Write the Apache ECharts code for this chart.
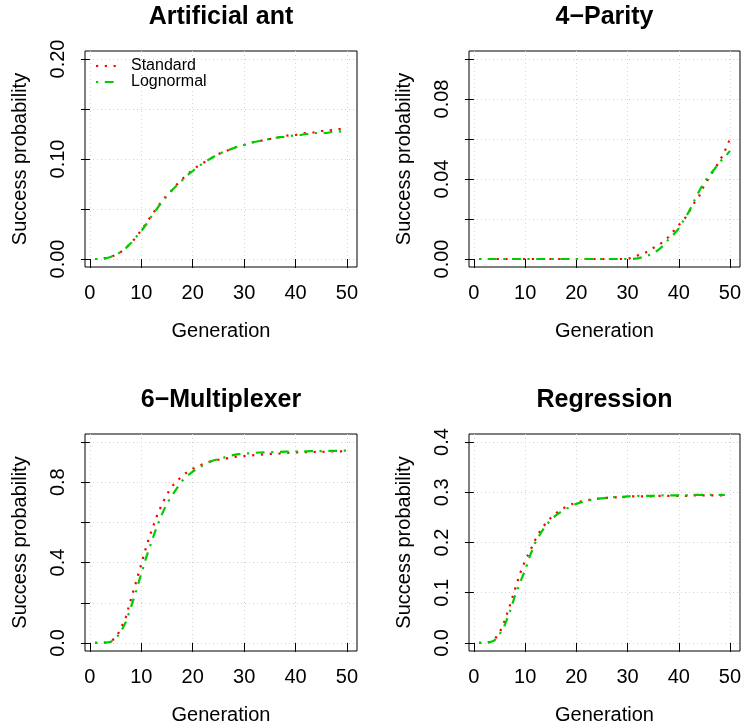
<!DOCTYPE html>
<html>
<head>
<meta charset="utf-8">
<script src="https://cdn.jsdelivr.net/npm/echarts@6/dist/echarts.min.js"></script>
<style>
    html, body { margin: 0; padding: 0; background: #fff; }
    #main { width: 742px; height: 728px; }
</style>
</head>
<body>
<div id="main"></div>
<script>
// generations (x)
var gens = [1, 2, 3, 4, 5, 6, 7, 8, 9, 10, 11, 12, 13, 14, 15, 16, 17, 18, 19, 20,
    21, 22, 23, 24, 25, 26, 27, 28, 29, 30, 31, 32, 33, 34, 35, 36, 37, 38, 39, 40,
    41, 42, 43, 44, 45, 46, 47, 48, 49, 50];

var titles = ['Artificial ant', '4\u2212Parity', '6\u2212Multiplexer', 'Regression'];
var seriesNames = ['Standard', 'Lognormal'];
var xTicks = [0, 10, 20, 30, 40, 50];

// y ticks / labels per panel
var yTicks = [
    [0, 0.05, 0.10, 0.15, 0.20],
    [0, 0.02, 0.04, 0.06, 0.08, 0.10],
    [0, 0.2, 0.4, 0.6, 0.8, 1.0],
    [0, 0.1, 0.2, 0.3, 0.4]
];
var yLabels = [
    [0, 0.10, 0.20],
    [0, 0.04, 0.08],
    [0, 0.4, 0.8],
    [0, 0.1, 0.2, 0.3, 0.4]
];
var yDigits = [2, 2, 1, 1];

// Artificial ant
var antStandard = [0, 0, 0.001, 0.002, 0.004, 0.007, 0.011, 0.016, 0.022, 0.029,
    0.036, 0.044, 0.051, 0.058, 0.064, 0.069, 0.075, 0.080, 0.085, 0.089,
    0.093, 0.096, 0.099, 0.102, 0.105, 0.107, 0.109, 0.111, 0.113, 0.114,
    0.116, 0.117, 0.118, 0.119, 0.120, 0.121, 0.122, 0.123, 0.124, 0.124,
    0.125, 0.126, 0.126, 0.127, 0.128, 0.128, 0.129, 0.130, 0.130, 0.131];
var antLognormal = [0, 0, 0.0005, 0.002, 0.004, 0.007, 0.011, 0.016, 0.022, 0.028,
    0.035, 0.043, 0.050, 0.057, 0.063, 0.069, 0.074, 0.079, 0.084, 0.088,
    0.092, 0.096, 0.099, 0.102, 0.105, 0.107, 0.109, 0.111, 0.113, 0.114,
    0.116, 0.117, 0.118, 0.119, 0.120, 0.121, 0.122, 0.122, 0.123, 0.124,
    0.124, 0.125, 0.125, 0.126, 0.126, 0.126, 0.127, 0.127, 0.128, 0.128];

// 4-Parity
var parityStandard = [0, 0, 0, 0, 0, 0, 0, 0, 0, 0,
    0, 0, 0, 0, 0, 0, 0, 0, 0, 0,
    0, 0, 0, 0, 0, 0, 0, 0, 0, 0,
    0.0008, 0.0018, 0.0027, 0.0038, 0.0055, 0.0068, 0.0087, 0.011, 0.014, 0.017,
    0.0195, 0.0235, 0.028, 0.0315, 0.037, 0.041, 0.045, 0.049, 0.054, 0.060];
var parityLognormal = [0, 0, 0, 0, 0, 0, 0, 0, 0, 0,
    0, 0, 0, 0, 0, 0, 0, 0, 0, 0,
    0, 0, 0, 0, 0, 0, 0, 0, 0, 0,
    0, 0.0003, 0.001, 0.0018, 0.0028, 0.0045, 0.0068, 0.0098, 0.0123, 0.0152,
    0.0195, 0.0237, 0.029, 0.034, 0.0385, 0.042, 0.045, 0.0485, 0.051, 0.054];

// 6-Multiplexer
var muxStandard = [0, 0.001, 0.003, 0.008, 0.025, 0.07, 0.13, 0.22, 0.305, 0.393,
    0.483, 0.56, 0.63, 0.69, 0.74, 0.78, 0.807, 0.833, 0.852, 0.867,
    0.879, 0.89, 0.9, 0.907, 0.912, 0.916, 0.92, 0.925, 0.928, 0.93,
    0.932, 0.935, 0.937, 0.939, 0.941, 0.942, 0.943, 0.945, 0.947, 0.948,
    0.949, 0.95, 0.95, 0.951, 0.951, 0.952, 0.953, 0.953, 0.954, 0.955];
var muxLognormal = [0, 0, 0.001, 0.005, 0.02, 0.055, 0.105, 0.18, 0.26, 0.345,
    0.43, 0.505, 0.577, 0.64, 0.695, 0.735, 0.773, 0.808, 0.833, 0.853,
    0.868, 0.885, 0.898, 0.908, 0.915, 0.922, 0.93, 0.936, 0.94, 0.942,
    0.944, 0.946, 0.948, 0.949, 0.95, 0.95, 0.951, 0.952, 0.953, 0.953,
    0.954, 0.954, 0.955, 0.955, 0.955, 0.956, 0.956, 0.956, 0.957, 0.957];

// Regression (stops at generation 49)
var regStandard = [0, 0, 0.002, 0.007, 0.02, 0.044, 0.074, 0.106, 0.138, 0.164,
    0.184, 0.206, 0.224, 0.238, 0.249, 0.258, 0.266, 0.271, 0.276, 0.279,
    0.282, 0.284, 0.286, 0.287, 0.288, 0.289, 0.29, 0.29, 0.29, 0.291,
    0.292, 0.292, 0.292, 0.292, 0.292, 0.293, 0.293, 0.293, 0.293, 0.293,
    0.293, 0.293, 0.294, 0.294, 0.294, 0.294, 0.294, 0.294, 0.294];
var regLognormal = [0, 0, 0.001, 0.005, 0.017, 0.035, 0.062, 0.093, 0.12, 0.145,
    0.175, 0.2, 0.218, 0.233, 0.245, 0.254, 0.261, 0.267, 0.272, 0.277,
    0.28, 0.283, 0.285, 0.287, 0.288, 0.289, 0.29, 0.291, 0.291, 0.292,
    0.292, 0.293, 0.293, 0.293, 0.293, 0.294, 0.294, 0.294, 0.294, 0.294,
    0.294, 0.294, 0.295, 0.295, 0.295, 0.295, 0.295, 0.295, 0.295];

var panelData = [
    [antStandard, antLognormal],
    [parityStandard, parityLognormal],
    [muxStandard, muxLognormal],
    [regStandard, regLognormal]
];

//面板位置
var boxes = [
    {left: 85, top: 51, width: 272, height: 216},
    {left: 469, top: 51, width: 271, height: 216},
    {left: 85, top: 434, width: 272, height: 217},
    {left: 469, top: 434, width: 271, height: 217}
];
var titleTops = [5, 5, 388, 388];

var font = 'Liberation Sans, Arial, Helvetica, sans-serif';
var lineColors = ['#FF0000', '#00CD00'];
var lineDash = [[2.2, 6.6], [2.2, 6.6, 8.8, 6.6]];

function pairs(values) {
    var out = [];
    for (var i = 0; i < values.length; i++) {
        out.push([gens[i], values[i]]);
    }
    return out;
}

var title = [], grid = [], xAxis = [], yAxis = [], series = [];

for (var p = 0; p < 4; p++) {
    var b = boxes[p];
    var yMin = yTicks[p][0], yMax = yTicks[p][yTicks[p].length - 1];
    var pad = (yMax - yMin) * 0.04;

    title.push({
        text: titles[p],
        left: b.left + b.width / 2,
        textAlign: 'center',
        top: titleTops[p],
        padding: 0,
        textStyle: {fontFamily: font, fontSize: 25, fontWeight: 'bold', color: '#000'}
    });

    grid.push({
        left: b.left, top: b.top, width: b.width, height: b.height,
        show: true, borderColor: '#000', borderWidth: 1, backgroundColor: 'transparent',
        outerBoundsMode: 'none'
    });

    xAxis.push({
        type: 'value', gridIndex: p,
        min: -0.96, max: 51.96,
        name: 'Generation', nameLocation: 'middle', nameGap: 54,
        nameTextStyle: {fontFamily: font, fontSize: 20, color: '#000'},
        axisLine: {show: false},
        axisTick: {show: true, inside: false, length: 9, customValues: xTicks,
            lineStyle: {color: '#000', width: 1}},
        axisLabel: {customValues: xTicks, margin: 16,
            fontFamily: font, fontSize: 20, color: '#000'},
        splitLine: {show: true, lineStyle: {color: '#d3d3d3', type: [1, 3], width: 1}}
    });

    yAxis.push({
        type: 'value', gridIndex: p,
        min: yMin - pad, max: yMax + pad,
        name: 'Success probability', nameLocation: 'middle', nameGap: 55,
        nameMoveOverlap: false,
        nameTextStyle: {fontFamily: font, fontSize: 20, color: '#000'},
        axisLine: {show: false},
        axisTick: {show: true, inside: false, length: 9, customValues: yTicks[p],
            lineStyle: {color: '#000', width: 1}},
        axisLabel: {customValues: yLabels[p], margin: 17, rotate: 90,
            fontFamily: font, fontSize: 20, color: '#000',
            formatter: (function (d) {
                return function (v) { return v.toFixed(d); };
            })(yDigits[p])},
        splitLine: {show: true, lineStyle: {color: '#d3d3d3', type: [1, 3], width: 1}}
    });

    for (var s = 0; s < 2; s++) {
        series.push({
            name: seriesNames[s],
            type: 'line',
            xAxisIndex: p, yAxisIndex: p,
            data: pairs(panelData[p][s]),
            symbol: 'none',
            smooth: false,
            silent: true,
            lineStyle: {color: lineColors[s], width: 2.2, type: lineDash[s], cap: 'butt'},
            itemStyle: {color: lineColors[s]},
            animation: false
        });
    }
}

var option = {
    backgroundColor: '#fff',
    animation: false,
    title: title,
    grid: grid,
    xAxis: xAxis,
    yAxis: yAxis,
    legend: {
        data: seriesNames,
        orient: 'vertical',
        left: 95, top: 58,
        padding: 0,
        itemWidth: 21, itemHeight: 14, itemGap: 0,
        itemStyle: {opacity: 0},
        textStyle: {fontFamily: font, fontSize: 16, color: '#000', padding: [0, 0, 0, 9]},
        selectedMode: false
    },
    series: series
};

var myChart = echarts.init(document.getElementById('main'));
myChart.setOption(option);
</script>
</body>
</html>
